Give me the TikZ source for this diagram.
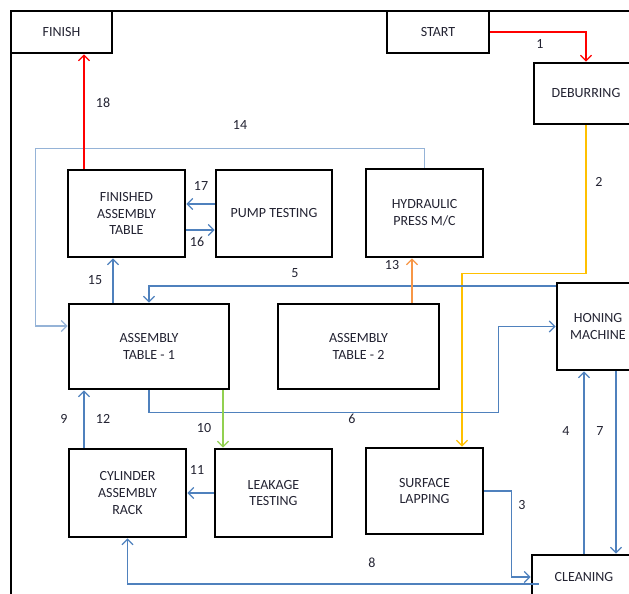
\documentclass[tikz,border=0pt]{standalone}
\usepackage{fontspec}
\setmainfont{Carlito}
\usetikzlibrary{arrows.meta}
\definecolor{flowblue}{RGB}{79,129,189}
\definecolor{lightflow}{RGB}{149,179,215}
\definecolor{flowred}{RGB}{255,0,0}
\definecolor{flowgold}{RGB}{255,192,0}
\definecolor{flowgreen}{RGB}{146,208,80}
\definecolor{floworange}{RGB}{247,150,70}
\definecolor{ink}{RGB}{35,35,50}
\tikzset{
  stage/.style={draw=black,line width=2.8pt,inner sep=0pt,align=center,text=ink,font=\fontsize{14}{16.8}\selectfont},
  flow/.style={line width=1.25pt,-{Straight Barb[length=5.5pt,width=11pt]}},
  num/.style={text=ink,font=\fontsize{14}{16}\selectfont}
}
\begin{document}
\begin{tikzpicture}[x=1pt,y=-1pt]
\clip (0,0) rectangle (629,594);
\draw[line width=2.6pt] (11,600) -- (11,11) -- (640,11);

\node[stage,minimum width=101,minimum height=42] (finish) at (61.5,32) {FINISH};
\node[stage,minimum width=102,minimum height=42] (start) at (438,32) {START};
\node[stage,minimum width=104,minimum height=61] (deburr) at (586,93.5) {DEBURRING};
\node[stage,minimum width=117,minimum height=87] (fat) at (126.5,213.5) {FINISHED\\ASSEMBLY\\TABLE};
\node[stage,minimum width=116,minimum height=87] (pump) at (274,213.5) {PUMP TESTING};
\node[stage,minimum width=117,minimum height=88] (hyd) at (424.5,213) {HYDRAULIC\\PRESS M/C};
\node[stage,minimum width=160,minimum height=85] (at1) at (149,346.5) {ASSEMBLY\\TABLE - 1};
\node[stage,minimum width=161,minimum height=85] (at2) at (358.5,346.5) {ASSEMBLY\\TABLE - 2};
\node[stage,minimum width=82,minimum height=87] (honing) at (598,326.5) {HONING\\MACHINE};
\node[stage,minimum width=117,minimum height=88] (cyl) at (127.5,493) {CYLINDER\\ASSEMBLY\\RACK};
\node[stage,minimum width=117,minimum height=88] (leak) at (273.5,493) {LEAKAGE\\TESTING};
\node[stage,minimum width=117,minimum height=86] (lap) at (424.5,491) {SURFACE\\LAPPING};
\node[stage,minimum width=104,minimum height=44] (clean) at (584,577) {CLEANING};

\draw[flow,flowred] (start.east) -| (deburr.north);
\draw[flow,flowgold] (deburr.south) -- ++(0,148) -| ([xshift=37.5pt]lap.north);
\draw[flow,flowblue] (lap.east) -- ++(27,0) |- (clean.west);
\draw[flow,flowblue] (clean.north) -- ([xshift=-14pt]honing.south);
\draw[flow,flowblue] ([yshift=40.5pt]honing.west) -| (at1.north);
\draw[flow,flowblue] (at1.south) -- ++(0,22) -| ([xshift=-57pt]honing.west) -- (honing.west);
\draw[flow,flowblue] ([xshift=18pt]honing.south) -- ([xshift=32pt]clean.north);
\draw[flow,flowblue] ([xshift=8pt,yshift=-7pt]clean.west) -| (cyl.south);
\draw[flow,flowblue] ([xshift=-43.5pt]cyl.north) -- ([xshift=-65pt]at1.south);
\draw[flow,flowgreen] ([xshift=74pt]at1.south) -- ([xshift=-50.5pt]leak.north);
\draw[flow,flowblue] (leak.west) -- (cyl.east);
\draw[flow,floworange] ([xshift=53.5pt]at2.north) -- ([xshift=-12.5pt]hyd.south);
\draw[flow,lightflow] (hyd.north) -- ++(0,-19) -| ([xshift=-32pt,yshift=20.5pt]at1.west) -- ([yshift=20.5pt]at1.west);
\draw[flow,flowblue] ([xshift=-36pt]at1.north) -- ([xshift=-13.5pt]fat.south);
\draw[flow,flowblue] ([yshift=-16.5pt]fat.east) -- ([yshift=-16.5pt]pump.west);
\draw[flow,flowblue] ([yshift=9.5pt]pump.west) -- ([yshift=9.5pt]fat.east);
\draw[flow,flowred] ([xshift=-42.5pt]fat.north) -- ([xshift=22.5pt]finish.south);

\foreach \x/\y/\t in {540/44/1,599/182/2,522/505/3,566/431/4,295/273/5,352/419/6,600/431/7,372/563/8,
  64/419/9,204/428/10,197/470/11,103/419/12,392/265/13,240/125/14,95/280/15,197/242/16,201/186/17,103/103/18}
{
\node[num] (n\t) at (\x,\y) {\t};
}
\end{tikzpicture}
\end{document}
